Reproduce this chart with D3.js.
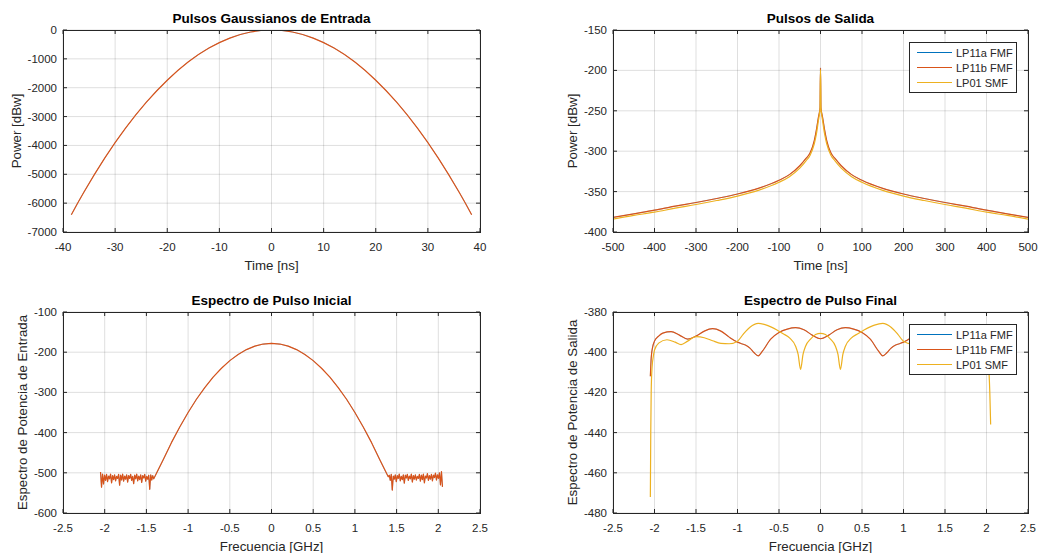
<!DOCTYPE html>
<html>
<head>
<meta charset="utf-8">
<script src="https://cdn.jsdelivr.net/npm/d3@7"></script>
<style>
  body { margin: 0; background: #fff; }
  svg { display: block; font-family: "Liberation Sans", Arial, sans-serif; }
</style>
</head>
<body>
<div id="chart"></div>
<script>
// ---- data ----

// panel 1: input gaussian pulse (time in ns, power in dBw)
const inputTime  = [-38.4, -36, -32, -28, -24, -20, -16, -12, -8, -4, 0, 4, 8, 12, 16, 20, 24, 28, 32, 36, 38.4];
const inputPower = [-6400, -5620, -4440, -3400, -2500, -1740, -1110, -625, -280, -70, 0, -70, -280, -625, -1110, -1740, -2500, -3400, -4440, -5620, -6400];

// panel 2: output pulses
const outTime = [-500, -450, -400, -350, -300, -250, -200, -150, -100, -75, -50, -35, -25, -15, -10, -5, -2, -1, 0,
                 1, 2, 5, 10, 15, 25, 35, 50, 75, 100, 150, 200, 250, 300, 350, 400, 450, 500];
const outLP11 = [-382, -377.5, -373, -368, -363.5, -358.5, -353, -346, -336, -329, -318, -309, -302, -287, -274, -258, -250, -246, -197,
                 -246, -250, -258, -274, -287, -302, -309, -318, -329, -336, -346, -353, -358.5, -363.5, -368, -373, -377.5, -382];
const outLP01 = [-384, -379.5, -375.5, -370.5, -366, -361, -355.5, -348.5, -338.5, -331.5, -321, -312, -305, -291, -279, -262, -252, -247, -199,
                 -247, -252, -262, -279, -291, -305, -312, -321, -331.5, -338.5, -348.5, -355.5, -361, -366, -370.5, -375.5, -379.5, -384];

// panel 3: initial spectrum (GHz) - noise floor left, main lobe, noise floor right
const noiseLeft = [-498, -536, -503, -528, -506, -519, -504, -522, -508, -515, -503, -525, -507, -517, -505, -520, -509, -514, -504, -531,
                   -506, -518, -503, -521, -508, -516, -505, -523, -507, -514, -504, -519, -509, -527, -506, -515, -503, -520, -508, -517,
                   -505, -524, -507, -513, -504, -521, -509, -516, -506, -541, -505, -518, -507, -515, -510];
const lobeFreq  = [-1.39, -1.3, -1.2, -1.1, -1.0, -0.9, -0.8, -0.7, -0.6, -0.5, -0.4, -0.3, -0.2, -0.1, 0,
                   0.1, 0.2, 0.3, 0.4, 0.5, 0.6, 0.7, 0.8, 0.9, 1.0, 1.1, 1.2, 1.3, 1.39];
const lobePower = [-510, -468, -425, -386, -350, -317, -288, -262, -240, -221, -205.5, -193.5, -185, -179.7, -178,
                   -179.7, -185, -193.5, -205.5, -221, -240, -262, -288, -317, -350, -386, -425, -468, -510];
const noiseRight = [-510, -506, -519, -504, -543, -508, -516, -505, -522, -507, -514, -503, -520, -509, -517, -505, -526, -506, -513, -504,
                    -519, -508, -515, -503, -523, -507, -516, -505, -518, -509, -514, -504, -521, -506, -517, -503, -525, -508, -513, -502,
                    -519, -507, -516, -504, -520, -506, -512, -501, -518, -505, -514, -500, -530, -497, -535];
const noiseStart = 1.40, noiseEnd = 2.05;

// panel 4: final spectrum
const finFreqLP11 = [-2.05, -2.04, -2.02, -2.0, -1.95, -1.9, -1.8, -1.7, -1.6, -1.5, -1.4, -1.3, -1.2, -1.1, -1.0, -0.95, -0.9, -0.85, -0.8, -0.75,
                     -0.7, -0.6, -0.5, -0.4, -0.3, -0.2, -0.1, 0, 0.1, 0.2, 0.3, 0.4, 0.5, 0.6, 0.7, 0.75, 0.8, 0.85, 0.9, 0.95,
                     1.0, 1.1, 1.2, 1.3, 1.4, 1.5, 1.6, 1.7, 1.8, 1.9, 1.95, 2.0, 2.02, 2.04, 2.05];
const finLP11 = [-412, -403, -397, -394.5, -392, -390.5, -389.8, -391.5, -393.5, -392, -389.5, -388.3, -389.5, -392.5, -395, -395.8, -396.5, -398, -400.3, -401.8,
                 -399.5, -393.5, -390.2, -388.5, -387.8, -388.8, -391.5, -393.3, -391.5, -388.8, -387.8, -388.5, -390.2, -393.5, -399.5, -401.8, -400.3, -398, -396.5, -395.8,
                 -395, -392.5, -389.5, -388.3, -389.5, -392, -393.5, -391.5, -389.8, -390.5, -392, -394.5, -397, -401, -406];
const finFreqLP01 = [-2.05, -2.045, -2.04, -2.03, -2.01, -2.0, -1.95, -1.85, -1.75, -1.68, -1.6, -1.5, -1.4, -1.3, -1.2, -1.1, -1.0, -0.93, -0.85, -0.75,
                     -0.65, -0.53, -0.45, -0.37, -0.3, -0.27, -0.24, -0.21, -0.18, -0.12, -0.06, 0,
                     0.06, 0.12, 0.18, 0.21, 0.24, 0.27, 0.3, 0.37, 0.45, 0.53, 0.65, 0.75, 0.85, 0.93, 1.0, 1.1, 1.2, 1.3,
                     1.4, 1.5, 1.6, 1.68, 1.75, 1.85, 1.95, 2.0, 2.01, 2.03, 2.04, 2.045, 2.05];
const finLP01 = [-472, -440, -420, -408, -401, -399, -395.5, -393.8, -395, -396.2, -394.5, -392.3, -392.8, -394.3, -395.6, -395.8, -394.5, -391, -387.6, -385.7,
                 -386.5, -388.8, -390.8, -393, -397, -401, -408.5, -401, -397, -393.5, -391.2, -390.6,
                 -391.2, -393.5, -397, -401, -408.5, -401, -397, -393, -390.8, -388.8, -386.5, -385.7, -387.6, -391, -394.5, -395.8, -395.6, -394.3,
                 -392.8, -392.3, -394.5, -396.2, -395, -393.8, -395.5, -399, -401, -410, -420, -428, -436];

// axis ticks
const ticksTimeIn   = [-40, -30, -20, -10, 0, 10, 20, 30, 40];
const ticksPowerIn  = [-7000, -6000, -5000, -4000, -3000, -2000, -1000, 0];
const ticksTimeOut  = [-500, -400, -300, -200, -100, 0, 100, 200, 300, 400, 500];
const ticksPowerOut = [-400, -350, -300, -250, -200, -150];
const ticksFreq     = [-2.5, -2, -1.5, -1, -0.5, 0, 0.5, 1, 1.5, 2, 2.5];
const ticksSpecIn   = [-600, -500, -400, -300, -200, -100];
const ticksSpecOut  = [-480, -460, -440, -420, -400, -380];

const seriesNames = ["LP11a FMF", "LP11b FMF", "LP01 SMF"];
const colors = ["#0072BD", "#D95319", "#EDB120"];

// ---- drawing ----
const axisColor = "#262626";
const svg = d3.select("#chart").append("svg")
  .attr("width", 1045)
  .attr("height", 553);

let clipId = 0;

function panel(box, xDomain, yDomain, xTicks, yTicks, title, xLabel, yLabel, yLabelX) {
  const x = d3.scaleLinear().domain(xDomain).range([box.left, box.right]);
  const y = d3.scaleLinear().domain(yDomain).range([box.bottom, box.top]);
  const g = svg.append("g");

  // grid
  g.append("g").selectAll("line").data(xTicks).join("line")
    .attr("x1", d => x(d)).attr("x2", d => x(d))
    .attr("y1", box.top).attr("y2", box.bottom)
    .attr("stroke", axisColor).attr("stroke-opacity", 0.15);
  g.append("g").selectAll("line").data(yTicks).join("line")
    .attr("x1", box.left).attr("x2", box.right)
    .attr("y1", d => y(d)).attr("y2", d => y(d))
    .attr("stroke", axisColor).attr("stroke-opacity", 0.15);

  // clip for the data
  const id = "clip" + (clipId++);
  svg.append("clipPath").attr("id", id)
    .append("rect")
    .attr("x", box.left).attr("y", box.top)
    .attr("width", box.right - box.left).attr("height", box.bottom - box.top);
  const plot = g.append("g").attr("clip-path", `url(#${id})`);

  // box and inward ticks (all four sides)
  g.append("rect")
    .attr("x", box.left + 0.5).attr("y", box.top + 0.5)
    .attr("width", box.right - box.left).attr("height", box.bottom - box.top)
    .attr("fill", "none").attr("stroke", axisColor).attr("stroke-width", 1);
  const tl = 4;
  g.append("g").selectAll("path").data(xTicks).join("path")
    .attr("d", d => `M${x(d)},${box.bottom}v${-tl}M${x(d)},${box.top}v${tl}`)
    .attr("stroke", axisColor);
  g.append("g").selectAll("path").data(yTicks).join("path")
    .attr("d", d => `M${box.left},${y(d)}h${tl}M${box.right},${y(d)}h${-tl}`)
    .attr("stroke", axisColor);

  // tick labels
  g.append("g").selectAll("text").data(xTicks).join("text")
    .attr("x", d => x(d)).attr("y", box.bottom + 19)
    .attr("text-anchor", "middle")
    .style("font-size", "11.5px").style("fill", axisColor)
    .text(d => String(d));
  g.append("g").selectAll("text").data(yTicks).join("text")
    .attr("x", box.left - 6).attr("y", d => y(d) + 4)
    .attr("text-anchor", "end")
    .style("font-size", "11.5px").style("fill", axisColor)
    .text(d => String(d));

  // title and axis labels
  g.append("text")
    .attr("x", (box.left + box.right) / 2).attr("y", box.top - 7)
    .attr("text-anchor", "middle")
    .style("font-size", "13.5px").style("font-weight", "bold").style("fill", "#000")
    .text(title);
  g.append("text")
    .attr("x", (box.left + box.right) / 2).attr("y", box.bottom + 38)
    .attr("text-anchor", "middle")
    .style("font-size", "13.3px").style("fill", axisColor)
    .text(xLabel);
  g.append("text")
    .attr("transform", `translate(${yLabelX},${(box.top + box.bottom) / 2}) rotate(-90)`)
    .attr("text-anchor", "middle")
    .attr("dy", "0.35em")
    .style("font-size", "13.3px").style("fill", axisColor)
    .text(yLabel);

  return { x, y, g, plot, box };
}

function drawLine(p, xs, ys, color, curve, width) {
  const line = d3.line()
    .x((d, i) => p.x(xs[i]))
    .y(d => p.y(d))
    .curve(curve || d3.curveMonotoneX);
  p.plot.append("path")
    .datum(ys)
    .attr("d", line)
    .attr("fill", "none")
    .attr("stroke", color)
    .attr("stroke-width", width || 1.1)
    .attr("stroke-linejoin", "round");
}

function legend(p) {
  const lw = 107, lh = 50;
  const lx = p.box.right - 12 - lw, ly = p.box.top + 12;
  const lg = p.g.append("g");
  lg.append("rect")
    .attr("x", lx + 0.5).attr("y", ly + 0.5)
    .attr("width", lw).attr("height", lh)
    .attr("fill", "#fff").attr("stroke", axisColor).attr("stroke-width", 1);
  const rows = lg.selectAll("g").data(seriesNames).join("g")
    .attr("transform", (d, i) => `translate(${lx},${ly + 10.5 + i * 15})`);
  rows.append("line")
    .attr("x1", 8).attr("x2", 43)
    .attr("stroke", (d, i) => colors[i]).attr("stroke-width", 1.1);
  rows.append("text")
    .attr("x", 47).attr("y", 4)
    .style("font-size", "11px").style("fill", axisColor)
    .text(d => d);
}

// panel 1 (LP11a lies under LP11b)
const p1 = panel({ left: 63, right: 480, top: 30, bottom: 232 }, [-40, 40], [-7000, 0],
  ticksTimeIn, ticksPowerIn, "Pulsos Gaussianos de Entrada", "Time [ns]", "Power [dBw]", 16);
drawLine(p1, inputTime, inputPower, colors[0], d3.curveNatural, 0.4);
drawLine(p1, inputTime, inputPower, colors[1], d3.curveNatural, 1.2);

// panel 2
const p2 = panel({ left: 613, right: 1028, top: 30, bottom: 232 }, [-500, 500], [-400, -150],
  ticksTimeOut, ticksPowerOut, "Pulsos de Salida", "Time [ns]", "Power [dBw]", 572);
drawLine(p2, outTime, outLP11, colors[0], null, 0.4);
drawLine(p2, outTime, outLP11, colors[1], null, 1.2);
drawLine(p2, outTime, outLP01, colors[2], null, 1.2);
legend(p2);

// panel 3
const p3 = panel({ left: 63, right: 480, top: 312, bottom: 513 }, [-2.5, 2.5], [-600, -100],
  ticksFreq, ticksSpecIn, "Espectro de Pulso Inicial", "Frecuencia [GHz]", "Espectro de Potencia de Entrada", 22);
const stepL = (noiseEnd - noiseStart) / (noiseLeft.length - 1);
const stepR = (noiseEnd - noiseStart) / (noiseRight.length - 1);
const specInFreq = noiseLeft.map((d, i) => -noiseEnd + i * stepL)
  .concat(lobeFreq.slice(1, -1))
  .concat(noiseRight.map((d, i) => noiseStart + i * stepR));
const specInPower = noiseLeft.concat(lobePower.slice(1, -1)).concat(noiseRight);
drawLine(p3, specInFreq, specInPower, colors[0], d3.curveLinear, 0.4);
drawLine(p3, specInFreq, specInPower, colors[1], d3.curveLinear, 1.2);

// panel 4
const p4 = panel({ left: 613, right: 1028, top: 312, bottom: 513 }, [-2.5, 2.5], [-480, -380],
  ticksFreq, ticksSpecOut, "Espectro de Pulso Final", "Frecuencia [GHz]", "Espectro de Potencia de Salida", 572);
drawLine(p4, finFreqLP11, finLP11, colors[0], null, 0.4);
drawLine(p4, finFreqLP11, finLP11, colors[1], null, 1.2);
drawLine(p4, finFreqLP01, finLP01, colors[2], null, 1.2);
legend(p4);
</script>
</body>
</html>
